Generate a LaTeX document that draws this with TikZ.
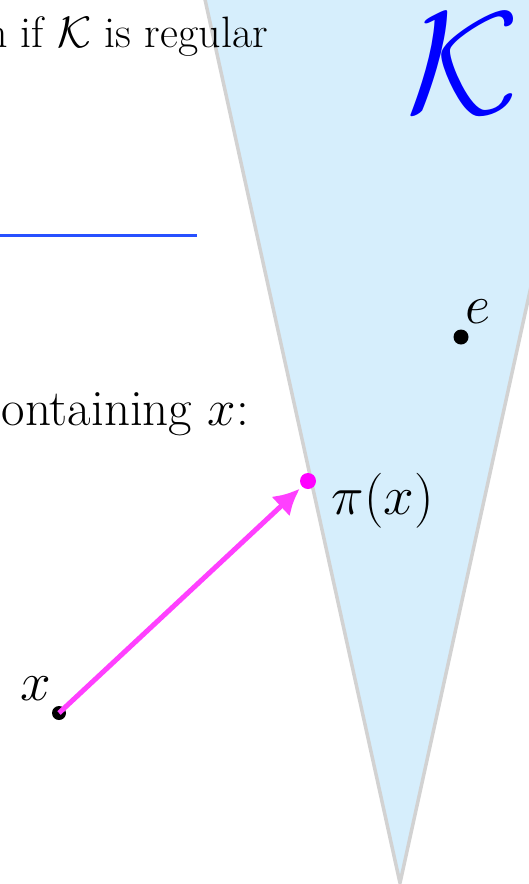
\RequirePackage{fix-cm}
\documentclass[tikz,border=0pt]{standalone}
\usetikzlibrary{arrows.meta}
\definecolor{conefill}{RGB}{214,238,252}
\definecolor{coneedge}{RGB}{210,210,210}
\definecolor{arrmag}{RGB}{255,64,255}
\definecolor{dotmag}{RGB}{255,0,255}
\definecolor{ruleblue}{RGB}{40,80,255}
\begin{document}
\begin{tikzpicture}[x=1pt,y=-1pt,
  conebody/.style={fill=conefill},
  coneline/.style={draw=coneedge,line width=3.5pt,line join=round},
  bodytext/.style={inner sep=0pt,font=\fontsize{44}{52}\selectfont},
  bodytextb/.style={inner sep=0pt,font=\fontsize{51}{60}\selectfont},
  lbl/.style={inner sep=0pt,font=\fontsize{55}{64}\selectfont},
  blackdot/.style={circle,fill=black,inner sep=0pt,minimum size=15pt},
  magdot/.style={circle,fill=dotmag,inner sep=0pt,minimum size=16pt},
  projarrow/.style={draw=arrmag,line width=5pt,-{Latex[length=26pt,width=27pt]},shorten >=3pt}
]
\useasboundingbox (0,0) rectangle (529,884);
\clip (0,0) rectangle (529,884);
\fill[conebody] (205,-5) -- (400,883) -- (594,-5) -- cycle;
\draw[coneline] (204,-5) -- (400,883) -- (595,-5);
\draw[ruleblue,line width=3pt] (0,235) -- (197,235);
\node[bodytext,anchor=base east] (t1) at (268,47) {n if $\mathcal{K}$ is regular};
\node[bodytextb,anchor=base east] (t2) at (249,425) {ontaining $x$:};
\node[inner sep=0pt,text=blue,font=\fontsize{146}{170}\selectfont] (K) at (463,64) {$\mathcal{K}$};
\node[blackdot] (e) at (461,337) {};
\node[lbl] (el) at (478,312) {$e$};
\node[magdot] (pi) at (308,481) {};
\node[lbl] (pil) at (383,501) {$\pi(x)$};
\node[blackdot,minimum size=14pt] (x) at (59,713) {};
\node[lbl] (xl) at (36,689) {$x$};
\draw[projarrow] (x.center) -- (pi);
\end{tikzpicture}
\end{document}
